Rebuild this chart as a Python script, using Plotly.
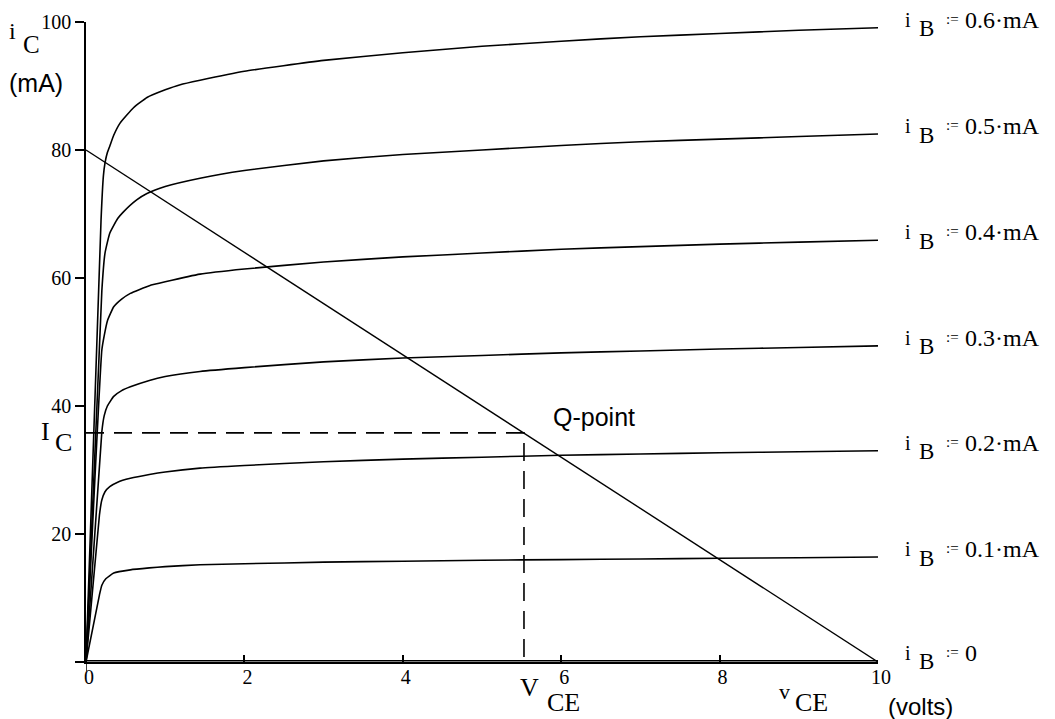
import plotly.graph_objects as go

# ---------------- data ----------------
ib_labels = ["0.6", "0.5", "0.4", "0.3", "0.2", "0.1", "0"]

vce_06 = [0, 0.19, 0.22, 0.24, 0.27, 0.30, 0.35, 0.43, 0.60, 0.77, 1.0, 1.19, 1.44, 2, 3, 4, 5, 6, 7, 8, 9, 10]
ic_06 = [0, 69.1, 76.0, 78.0, 79.6, 80.6, 82.3, 84.2, 86.6, 88.2, 89.4, 90.2, 90.9, 92.3, 94.0, 95.2, 96.2, 97.0, 97.7, 98.2, 98.7, 99.1]

vce_05 = [0, 0.20, 0.24, 0.30, 0.40, 0.47, 0.64, 0.77, 1.0, 1.44, 2, 3, 4, 5, 6, 7, 8, 9, 10]
ic_05 = [0, 58.0, 63.9, 67.0, 69.3, 70.3, 72.2, 73.2, 74.3, 75.6, 76.8, 78.3, 79.3, 80.0, 80.7, 81.3, 81.7, 82.1, 82.5]

vce_04 = [0, 0.20, 0.23, 0.27, 0.35, 0.45, 0.56, 0.80, 1.0, 1.44, 2, 3, 4, 5, 6, 7, 8, 9, 10]
ic_04 = [0, 48.75, 51.0, 53.3, 55.5, 56.7, 57.6, 58.8, 59.4, 60.6, 61.4, 62.5, 63.3, 63.9, 64.5, 64.9, 65.3, 65.6, 65.9]

vce_03 = [0, 0.20, 0.23, 0.27, 0.35, 0.45, 0.56, 0.80, 1.0, 1.44, 2, 3, 4, 5, 6, 7, 8, 9, 10]
ic_03 = [0, 36.0, 38.5, 40.0, 41.5, 42.4, 43.0, 44.0, 44.6, 45.4, 46.0, 46.9, 47.5, 47.9, 48.3, 48.6, 48.9, 49.15, 49.4]

vce_02 = [0, 0.17, 0.20, 0.24, 0.30, 0.40, 0.56, 0.80, 1.0, 1.44, 2, 3, 4, 5, 6, 7, 8, 9, 10]
ic_02 = [0, 23.0, 25.3, 26.6, 27.4, 28.1, 28.7, 29.3, 29.7, 30.3, 30.7, 31.3, 31.7, 32.0, 32.3, 32.5, 32.7, 32.85, 33.0]

vce_01 = [0, 0.17, 0.20, 0.25, 0.35, 0.56, 0.80, 1.0, 1.44, 2, 3, 4, 5, 6, 7, 8, 9, 10]
ic_01 = [0, 10.5, 12.0, 13.0, 13.9, 14.4, 14.7, 14.9, 15.2, 15.35, 15.6, 15.75, 15.9, 16.0, 16.1, 16.2, 16.3, 16.4]

vce_00 = [0, 10]
ic_00 = [0.2, 0.2]

load_v = [0, 10]
load_i = [80, 0]

q_v = 5.53
q_i = 35.8

x_ticks = [0, 2, 4, 6, 8, 10]
y_ticks = [0, 20, 40, 60, 80, 100]
y_ticktext = ["", "20", "40", "60", "80", "100"]

curves = [(vce_06, ic_06), (vce_05, ic_05), (vce_04, ic_04), (vce_03, ic_03),
          (vce_02, ic_02), (vce_01, ic_01), (vce_00, ic_00)]

SERIF = "Liberation Serif"
SANS = "Liberation Sans"

fig = go.Figure()

for vx, iy in curves:
    fig.add_trace(go.Scatter(x=vx, y=iy, mode="lines",
                             line=dict(color="black", width=1.6, shape="spline", smoothing=0.4),
                             cliponaxis=False, hoverinfo="skip"))

fig.add_trace(go.Scatter(x=load_v, y=load_i, mode="lines",
                         line=dict(color="black", width=1.4), cliponaxis=False, hoverinfo="skip"))

fig.add_trace(go.Scatter(x=[0, q_v, q_v], y=[q_i, q_i, 0], mode="lines",
                         line=dict(color="black", width=1.6, dash="18px,10px"),
                         cliponaxis=False, hoverinfo="skip"))

ann = []
# right-side labels
for (vx, iy), lab in zip(curves, ib_labels):
    yend = iy[-1]
    base = dict(x=vx[-1], y=yend, xref="x", yref="y", showarrow=False, xanchor="left")
    ann.append(dict(base, text="i", font=dict(family=SERIF, size=20, color="black"),
                    xshift=25, yshift=8))
    ann.append(dict(base, text="B", font=dict(family=SERIF, size=23, color="black"),
                    xshift=39, yshift=-1))
    ann.append(dict(base, text=":=", font=dict(family=SERIF, size=15, color="black"),
                    xshift=66, yshift=9))
    txt = "0" if lab == "0" else lab + "\u00b7mA"
    ann.append(dict(base, text=txt, font=dict(family=SERIF, size=24, color="black"),
                    xshift=85, yshift=8))

# y-axis title i_C (mA)
ann.append(dict(x=0, y=100, xref="x", yref="y", text="i", showarrow=False,
                xanchor="center", yanchor="middle", xshift=-74, yshift=-9,
                font=dict(family=SERIF, size=24, color="black")))
ann.append(dict(x=0, y=100, xref="x", yref="y", text="C", showarrow=False,
                xanchor="center", yanchor="middle", xshift=-55, yshift=-22,
                font=dict(family=SERIF, size=25, color="black")))
ann.append(dict(x=0, y=100, xref="x", yref="y", text="(mA)", showarrow=False,
                xanchor="center", yanchor="middle", xshift=-50, yshift=-61,
                font=dict(family=SANS, size=25, color="black")))

# I_C marker on y axis
ann.append(dict(x=0, y=q_i, xref="x", yref="y", text="I", showarrow=False,
                xanchor="center", yanchor="middle", xshift=-41, yshift=1,
                font=dict(family=SERIF, size=26, color="black")))
ann.append(dict(x=0, y=q_i, xref="x", yref="y", text="C", showarrow=False,
                xanchor="center", yanchor="middle", xshift=-23, yshift=-10,
                font=dict(family=SERIF, size=26, color="black")))

# V_CE marker under x axis
ann.append(dict(x=q_v, y=0, xref="x", yref="y", text="V", showarrow=False,
                xanchor="center", yanchor="middle", xshift=6, yshift=-25,
                font=dict(family=SERIF, size=26, color="black")))
ann.append(dict(x=q_v, y=0, xref="x", yref="y", text="CE", showarrow=False,
                xanchor="center", yanchor="middle", xshift=40, yshift=-40,
                font=dict(family=SERIF, size=26, color="black")))

# Q-point label
ann.append(dict(x=q_v, y=q_i, xref="x", yref="y", text="Q-point", showarrow=False,
                xanchor="left", yanchor="middle", xshift=27, yshift=16,
                font=dict(family=SANS, size=25, color="black")))

# x-axis title v_CE (volts)
ann.append(dict(x=10, y=0, xref="x", yref="y", text="v", showarrow=False,
                xanchor="center", yanchor="middle", xshift=-94, yshift=-29,
                font=dict(family=SERIF, size=22, color="black")))
ann.append(dict(x=10, y=0, xref="x", yref="y", text="CE", showarrow=False,
                xanchor="center", yanchor="middle", xshift=-67, yshift=-40,
                font=dict(family=SERIF, size=26, color="black")))
ann.append(dict(x=10, y=0, xref="x", yref="y", text="(volts)", showarrow=False,
                xanchor="center", yanchor="middle", xshift=42, yshift=-44,
                font=dict(family=SANS, size=24, color="black")))

fig.update_layout(
    width=1055, height=719,
    margin=dict(l=86, r=177, t=22, b=57),
    paper_bgcolor="white", plot_bgcolor="white",
    showlegend=False,
    annotations=ann,
    shapes=[dict(type="line", xref="x", yref="paper", x0=0, x1=0, y0=0, y1=-0.014,
                 line=dict(color="black", width=1.5))],
    xaxis=dict(range=[0, 10], showline=True, linecolor="black", linewidth=1.5,
               ticks="inside", ticklen=7, tickwidth=1.5, tickcolor="black",
               tickvals=x_ticks, ticktext=[str(v) for v in x_ticks],
               tickfont=dict(family=SERIF, size=20, color="black"),
               showgrid=False, zeroline=False, ticklabelshift=3, ticklabelstandoff=-4),
    yaxis=dict(range=[0, 100], showline=True, linecolor="black", linewidth=1.5,
               ticks="outside", ticklen=9, tickwidth=1.5, tickcolor="black",
               tickvals=y_ticks, ticktext=y_ticktext,
               tickfont=dict(family=SERIF, size=20, color="black"),
               showgrid=False, zeroline=False),
)

fig.write_html("out.html", config={"displayModeBar": False})
